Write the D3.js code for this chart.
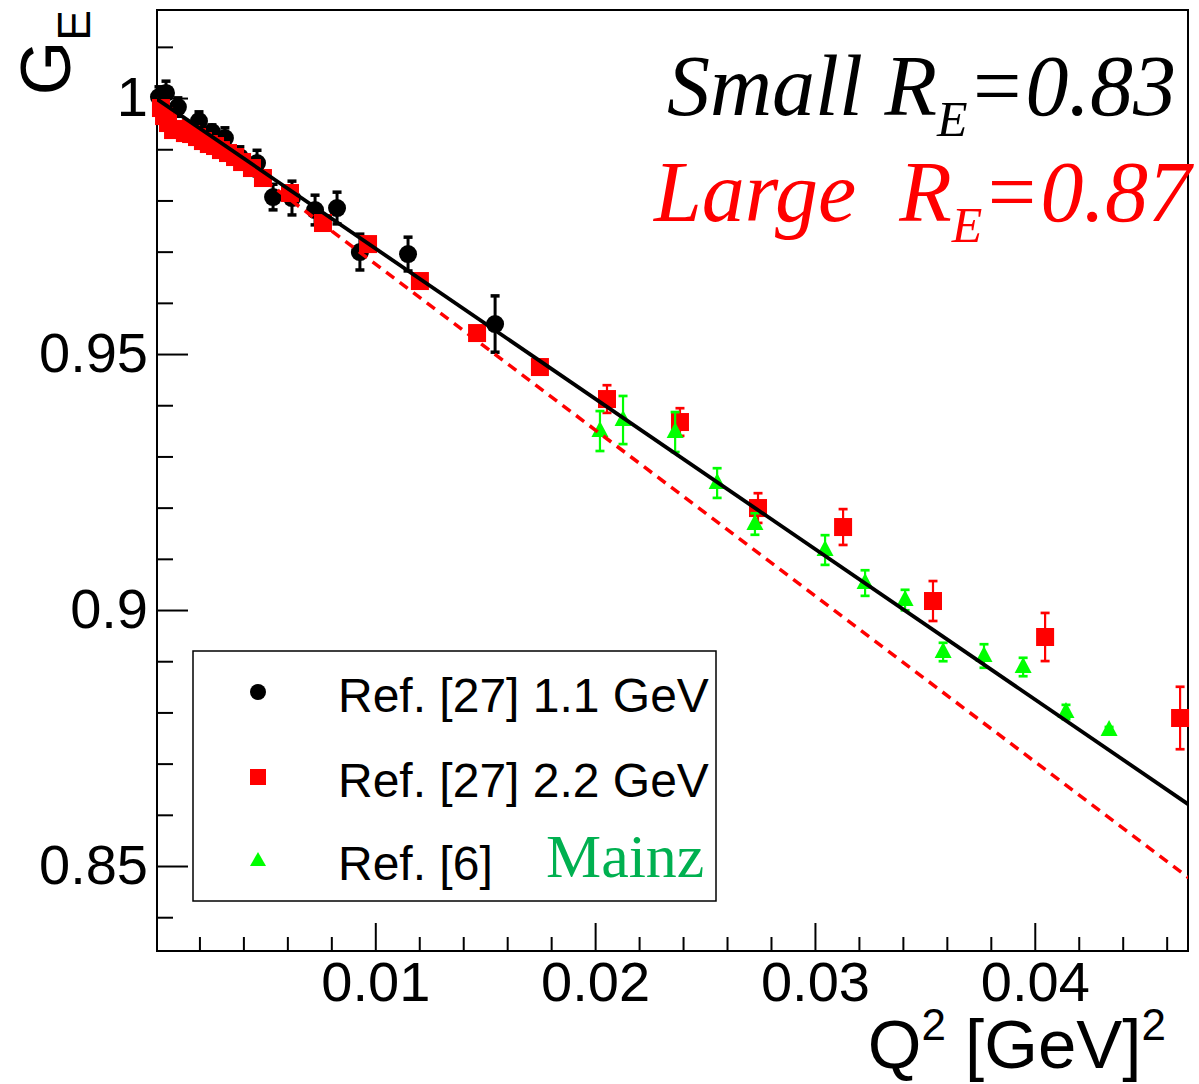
<!DOCTYPE html>
<html>
<head>
<meta charset="utf-8">
<script src="https://cdn.jsdelivr.net/npm/d3@7"></script>
<style>
  html, body { margin: 0; padding: 0; background: #fff; }
  svg { display: block; }
</style>
</head>
<body>
<svg id="chart" width="1199" height="1084"></svg>
<script>
// ---------------- DATA ----------------
// Ref. [27] 1.1 GeV (black circles)
const q2Ref27a = [0.00016,0.00048,0.00102,0.00198,0.00257,0.00316,0.00384,0.00462,0.00535,0.00621,0.00726,0.00826,0.00930,0.01149,0.01545];
const geRef27a = [1.0002,1.0010,0.99824,0.99551,0.99336,0.99219,0.98848,0.98730,0.98066,0.98047,0.97813,0.97852,0.96992,0.96953,0.95586];
const errRef27a = [0.0020,0.0023,0.0018,0.0018,0.0014,0.0020,0.0020,0.0025,0.0025,0.0033,0.0029,0.0031,0.0035,0.0033,0.0055];

// Ref. [27] 2.2 GeV (red squares)
const q2Ref27b = [0.00025,0.00039,0.00057,0.00080,0.00107,0.00134,0.00162,0.00189,0.00216,0.00243,0.00271,0.00298,0.00330,0.00362,0.00394,0.00439,0.00489,0.00612,0.00762,0.00967,0.01203,0.01463,0.01749,0.02054,0.02386,0.02741,0.03128,0.03537,0.04047,0.04661];
const geRef27b = [0.99805,0.99648,0.99512,0.99375,0.99395,0.99316,0.99297,0.99238,0.99160,0.99102,0.99063,0.98984,0.98926,0.98848,0.98750,0.98633,0.98438,0.98145,0.97559,0.97148,0.96426,0.95410,0.94746,0.94121,0.93672,0.91992,0.91621,0.90176,0.89473,0.87891];
const errRef27b = [0.0008,0.0008,0.0008,0.0008,0.0008,0.0008,0.0008,0.0008,0.0008,0.0008,0.0008,0.0008,0.0008,0.0008,0.0008,0.0008,0.0008,0.0010,0.0010,0.0010,0.0010,0.0012,0.0014,0.0027,0.0027,0.0029,0.0035,0.0039,0.0047,0.0061];

// Ref. [6] Mainz (green triangles)
const q2Mainz = [0.02022,0.02127,0.02364,0.02555,0.02727,0.03046,0.03228,0.03410,0.03583,0.03769,0.03947,0.04142,0.04338];
const geMainz = [0.93496,0.93711,0.93477,0.92480,0.91680,0.91172,0.90527,0.90195,0.89180,0.89102,0.88887,0.88008,0.87656];
const errMainz = [0.0039,0.0047,0.0039,0.0029,0.0021,0.0029,0.0025,0.0020,0.0018,0.0023,0.0018,0.0014,0.0006];

// Fit lines
const fitQ2 = [0.0, 0.047];
const fitSmall = [1.0, 0.8620];   // R_E = 0.83
const fitLarge = [1.0, 0.8477];   // R_E = 0.87

// Axes
const xMajorTicks = [0.01, 0.02, 0.03, 0.04];
const xMajorLabels = ["0.01", "0.02", "0.03", "0.04"];
const xMinorTicks = [0.002,0.004,0.006,0.008,0.012,0.014,0.016,0.018,0.022,0.024,0.026,0.028,0.032,0.034,0.036,0.038,0.042,0.044,0.046];
const yMajorTicks = [0.85, 0.9, 0.95, 1.0];
const yMajorLabels = ["0.85", "0.9", "0.95", "1"];
const yMinorTicks = [0.84,0.86,0.87,0.88,0.89,0.91,0.92,0.93,0.94,0.96,0.97,0.98,0.99,1.01];

const legendLabels = ["Ref. [27] 1.1 GeV", "Ref. [27] 2.2 GeV", "Ref. [6]"];

// ---------------- LAYOUT ----------------
const L = 157, R = 1188, T = 10, B = 951;
const svg = d3.select("#chart");
const sans = "'Liberation Sans', Arial, Helvetica, sans-serif";
const serif = "'Liberation Serif', 'Times New Roman', serif";

const x = d3.scaleLinear().domain([0.00007, 0.04697]).range([L, R]);
const y = d3.scaleLinear().domain([0.8334, 1.0172]).range([B, T]);

svg.append("defs").append("clipPath").attr("id", "plotclip")
  .append("rect").attr("x", L).attr("y", T).attr("width", R - L).attr("height", B - T);

// Axes: major & minor ticks (inward)
const gx = svg.append("g").attr("transform", `translate(0,${B})`)
  .call(d3.axisBottom(x).tickValues(xMajorTicks).tickFormat((d, i) => xMajorLabels[i]).tickSize(-28).tickPadding(10));
const gxm = svg.append("g").attr("transform", `translate(0,${B})`)
  .call(d3.axisBottom(x).tickValues(xMinorTicks).tickFormat("").tickSize(-14));
const gy = svg.append("g").attr("transform", `translate(${L},0)`)
  .call(d3.axisLeft(y).tickValues(yMajorTicks).tickFormat((d, i) => yMajorLabels[i]).tickSize(-31).tickPadding(9));
const gym = svg.append("g").attr("transform", `translate(${L},0)`)
  .call(d3.axisLeft(y).tickValues(yMinorTicks).tickFormat("").tickSize(-16));

[gx, gxm, gy, gym].forEach(g => {
  g.select(".domain").remove();
  g.selectAll(".tick line").attr("stroke", "#000").attr("stroke-width", 2);
  g.selectAll(".tick text").attr("fill", "#000").style("font-family", sans).style("font-size", "56px");
});

// Frame
svg.append("rect").attr("x", L).attr("y", T).attr("width", R - L).attr("height", B - T)
  .attr("fill", "none").attr("stroke", "#000").attr("stroke-width", 2);

// ---------------- MARKS ----------------
function errorBars(g, xs, ys, es, color, w) {
  const data = xs.map((d, i) => ({ q: d, g: ys[i], e: es[i] }));
  g.selectAll(null).data(data).enter().append("line")
    .attr("x1", d => x(d.q)).attr("x2", d => x(d.q))
    .attr("y1", d => y(d.g - d.e)).attr("y2", d => y(d.g + d.e))
    .attr("stroke", color).attr("stroke-width", w);
  ["-", "+"].forEach(s => {
    g.selectAll(null).data(data).enter().append("line")
      .attr("x1", d => x(d.q) - 4.5).attr("x2", d => x(d.q) + 4.5)
      .attr("y1", d => y(s === "+" ? d.g + d.e : d.g - d.e))
      .attr("y2", d => y(s === "+" ? d.g + d.e : d.g - d.e))
      .attr("stroke", color).attr("stroke-width", w + 0.5);
  });
  return data;
}

const gBlack = svg.append("g");
const dBlack = errorBars(gBlack, q2Ref27a, geRef27a, errRef27a, "#000", 3);
gBlack.selectAll("circle").data(dBlack).enter().append("circle")
  .attr("cx", d => x(d.q)).attr("cy", d => y(d.g)).attr("r", 9).attr("fill", "#000");

const gRed = svg.append("g");
const dRed = errorBars(gRed, q2Ref27b, geRef27b, errRef27b, "#ff0000", 2.2);
gRed.selectAll("rect").data(dRed).enter().append("rect")
  .attr("x", d => x(d.q) - 9).attr("y", d => y(d.g) - 9).attr("width", 18).attr("height", 18).attr("fill", "#ff0000");

const triPath = "M0,-10L8.5,6L-8.5,6Z";
const gGreen = svg.append("g");
const dGreen = errorBars(gGreen, q2Mainz, geMainz, errMainz, "#00ff00", 2.2);
gGreen.selectAll("path").data(dGreen).enter().append("path")
  .attr("d", triPath).attr("transform", d => `translate(${x(d.q)},${y(d.g)})`).attr("fill", "#00ff00");

// Fit lines
const line = d3.line().x(d => x(d[0])).y(d => y(d[1]));
const gLines = svg.append("g").attr("clip-path", "url(#plotclip)");
gLines.append("path").datum(fitQ2.map((q, i) => [q, fitLarge[i]])).attr("d", line)
  .attr("fill", "none").attr("stroke", "#ff0000").attr("stroke-width", 3.5).attr("stroke-dasharray", "10,7");
gLines.append("path").datum(fitQ2.map((q, i) => [q, fitSmall[i]])).attr("d", line)
  .attr("fill", "none").attr("stroke", "#000").attr("stroke-width", 3.8);

// ---------------- LEGEND ----------------
const lg = svg.append("g");
lg.append("rect").attr("x", 193).attr("y", 651).attr("width", 523).attr("height", 250)
  .attr("fill", "#fff").attr("stroke", "#000").attr("stroke-width", 1.5);
const rowY = [692, 777, 860];
lg.append("circle").attr("cx", 258).attr("cy", rowY[0]).attr("r", 8).attr("fill", "#000");
lg.append("rect").attr("x", 250).attr("y", rowY[1] - 8).attr("width", 16).attr("height", 16).attr("fill", "#ff0000");
lg.append("path").attr("d", "M0,-8L8,6L-8,6Z").attr("transform", `translate(258,${rowY[2]})`).attr("fill", "#00ff00");
legendLabels.forEach((t, i) => {
  lg.append("text").attr("x", 338).attr("y", rowY[i] + 20).text(t)
    .style("font-family", sans).style("font-size", "48px").attr("fill", "#000");
});
lg.append("text").attr("x", 546).attr("y", 877).text("Mainz")
  .style("font-family", serif).style("font-size", "62px").attr("fill", "#00b050");

// ---------------- TEXTS ----------------
function radiusText(x0, y0, word, value, color) {
  const t = svg.append("text").attr("x", x0).attr("y", y0)
    .style("font-family", serif).style("font-style", "italic").style("font-size", "86px").attr("fill", color);
  t.append("tspan").text(word + "R");
  t.append("tspan").attr("dy", 21).style("font-size", "50px").text("E");
  t.append("tspan").attr("dy", -21).text("=" + value);
  return t;
}
radiusText(667, 115, "Small ", "0.83", "#000");
radiusText(654, 221, "Large\u00a0\u00a0", "0.87", "#ff0000");

// Axis titles
const yt = svg.append("text").attr("transform", "translate(70,10) rotate(-90)")
  .attr("text-anchor", "end").style("font-family", sans).style("font-size", "70px").attr("fill", "#000");
yt.append("tspan").text("G");
yt.append("tspan").attr("dy", 20).style("font-size", "46px").text("E");

const xt = svg.append("text").attr("x", 1166).attr("y", 1068)
  .attr("text-anchor", "end").style("font-family", sans).style("font-size", "69px").attr("fill", "#000");
xt.append("tspan").text("Q");
xt.append("tspan").attr("dy", -28).style("font-size", "44px").text("2");
xt.append("tspan").attr("dy", 28).text(" [GeV]");
xt.append("tspan").attr("dy", -28).style("font-size", "44px").text("2");
</script>
</body>
</html>
